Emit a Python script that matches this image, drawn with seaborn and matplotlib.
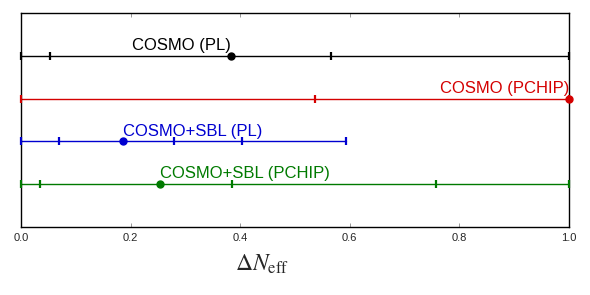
import pandas as pd
import matplotlib
matplotlib.use("Agg")
import matplotlib.pyplot as plt
import seaborn as sns

# ── data ────────────────────────────────────────────────────────────
labels = ["COSMO (PL)", "COSMO (PCHIP)", "COSMO+SBL (PL)", "COSMO+SBL (PCHIP)"]
colors = ["black", "#d40000", "#0000d0", "#007a00"]
rows = [4, 3, 2, 1]
line_lo = [0.0, 0.0, 0.0, 0.0]
line_hi = [1.0, 1.0, 0.593, 1.0]
best_fit = [0.383, 1.0, 0.186, 0.254]
interval_ticks = [
    [0.0, 0.053, 0.566, 1.0],
    [0.0, 0.537, 1.0],
    [0.0, 0.069, 0.279, 0.403, 0.593],
    [0.0, 0.035, 0.385, 0.757, 1.0],
]
label_side = ["right", "right", "left", "left"]

sns.set_style("ticks")
plt.rcParams["font.family"] = ["Liberation Sans", "DejaVu Sans"]
plt.rcParams["mathtext.fontset"] = "stix"

fig = plt.figure(figsize=(5.9, 2.95), dpi=100)
ax = fig.add_axes([21 / 590, 1 - 227 / 295, 548 / 590, 214 / 295])

for i, lab in enumerate(labels):
    c = colors[i]
    y = rows[i]
    seg = pd.DataFrame({"x": [line_lo[i], line_hi[i]], "y": [y, y]})
    sns.lineplot(data=seg, x="x", y="y", color=c, lw=1.0, ax=ax)
    tk = pd.DataFrame({"x": interval_ticks[i], "y": [y] * len(interval_ticks[i])})
    ax.plot(tk["x"], tk["y"], ls="none", marker="|", ms=5.5, mew=1.6, color=c,
            clip_on=False, zorder=3)
    ax.plot([best_fit[i]], [y], ls="none", marker="o", ms=5, color=c,
            clip_on=False, zorder=4)
    ax.annotate(lab, (best_fit[i], y), xytext=(0, 2), textcoords="offset points",
                ha=label_side[i], va="bottom", color=c, fontsize=12)

ax.set_xlim(0, 1)
ax.set_ylim(0, 5)
ax.set_yticks([])
ax.set_ylabel("")
ax.set_xticks([0.0, 0.2, 0.4, 0.6, 0.8, 1.0])
ax.set_xticklabels(["0.0", "0.2", "0.4", "0.6", "0.8", "1.0"])
ax.tick_params(axis="x", direction="in", length=3, width=0.6, color="#888888",
               top=True, labelsize=8, pad=4)
for sp in ax.spines.values():
    sp.set_linewidth(1.0)
    sp.set_color("black")
ax.set_xlabel(r"$\Delta N_{\rm eff}$", fontsize=17)
ax.xaxis.set_label_coords(0.44, -0.12)

fig.savefig("out.png", dpi=100)
